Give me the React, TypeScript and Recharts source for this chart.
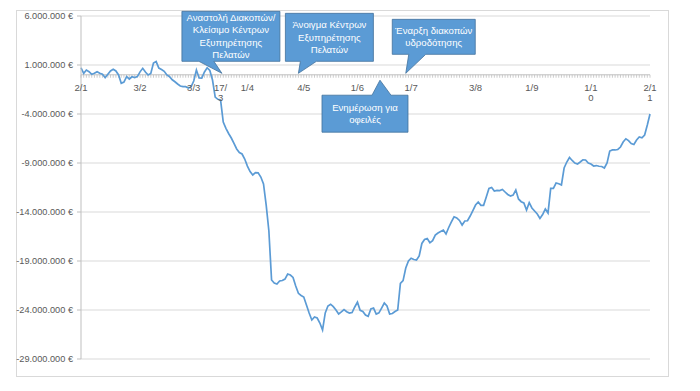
import React from 'react';
import {
  LineChart,
  Line,
  XAxis,
  YAxis,
  CartesianGrid,
  ReferenceLine,
  ReferenceDot,
} from 'recharts';

// Cash balance, in millions of euros, one value per business day (2/1 .. 2/11)
const balanceMillionEUR = [
  0.72, 0.15, 0.49, 0.32, 0.05, 0.15, 0.32, 0.15, 0.05, -0.3,
  0.05, 0.39, 0.56, 0.39, -0.02, -0.87, -0.75, -0.19, -0.43, -0.2,
  -0.28, -0.19, 0.3, 0.66, 0.29, -0.02, 0.13, 1.2, 1.35, 0.69,
  0.54, 0.36, -0.02, -0.2, -0.51, -0.71, -0.94, -1.14, -1.21, -1.21,
  -1.35, -1.24, -0.63, 0.49, -0.32, -0.33, 0.29, 0.72, 0.44, -0.53,
  -2.27, -2.5, -2.57, -4.82, -5.46, -5.99, -6.45, -7.01, -7.57, -7.93,
  -8.08, -8.59, -9.31, -9.87, -10.22, -9.99, -10.0, -10.43, -11.14, -13.29,
  -15.94, -20.94, -21.24, -21.35, -21.04, -20.99, -20.84, -20.33, -20.43, -20.68,
  -21.55, -22.3, -22.52, -22.67, -23.49, -24.31, -25.02, -24.71, -24.82, -25.33,
  -26.04, -24.3, -23.59, -23.41, -23.66, -24.0, -24.41, -24.2, -23.95, -24.17,
  -24.31, -24.26, -23.69, -23.2, -24.03, -24.15, -24.51, -24.65, -23.9, -23.8,
  -24.41, -24.29, -23.8, -23.29, -23.59, -24.41, -24.36, -24.15, -24.0, -21.28,
  -21.0, -19.71, -19.0, -18.72, -18.85, -18.9, -18.49, -17.21, -16.8, -16.7,
  -17.13, -16.93, -16.35, -16.14, -15.99, -15.84, -16.24, -15.58, -15.02, -14.49,
  -14.61, -14.86, -15.33, -14.92, -14.89, -14.41, -13.85, -13.29, -12.98, -13.32,
  -13.32, -12.47, -11.6, -11.5, -11.86, -11.79, -11.81, -11.7, -11.96, -12.21,
  -12.37, -12.27, -11.76, -12.67, -12.95, -13.08, -13.8, -13.05, -13.59, -13.9,
  -14.2, -14.66, -14.26, -13.69, -14.1, -11.58, -11.58, -11.04, -11.12, -11.24,
  -9.51, -8.9, -8.44, -8.74, -9.0, -9.1, -8.9, -8.67, -8.69, -9.0,
  -9.1, -9.31, -9.26, -9.33, -9.36, -9.51, -9.0, -7.78, -7.67, -7.67,
  -7.62, -7.37, -6.86, -6.53, -6.72, -7.01, -7.11, -6.65, -6.35, -6.43,
  -6.14, -5.12, -4.0,
];

// Category positions (business-day index)
const dayIndex = balanceMillionEUR.map((_, k) => k);

// Labelled category positions on the horizontal axis
const tickDayIndex = [0, 22, 42, 52, 62, 83, 103, 123, 147, 168, 190, 212];
const tickLabels = ['2/1', '3/2', '3/3', '17/3', '1/4', '4/5', '1/6', '1/7', '3/8', '1/9', '1/10', '2/11'];

const yTicks = [6000000, 1000000, -4000000, -9000000, -14000000, -19000000, -24000000, -29000000];

// Callouts: text and the point (day index, value) they point at
const calloutTexts = [
  ['Αναστολή Διακοπών/', 'Κλείσιμο Κέντρων', 'Εξυπηρέτησης', 'Πελατών'],
  ['Άνοιγμα Κέντρων', 'Εξυπηρέτησης', 'Πελατών'],
  ['Έναρξη διακοπών', 'υδροδότησης'],
  ['Ενημέρωση για', 'οφειλές'],
];
const calloutDay = [52.5, 81, 121, 111.4];
const calloutValue = [150000, 150000, 150000, -550000];

// Callout geometry (pixels relative to the pointer tip) — styling only
const calloutGeom = [
  { l: -40, r: 58, t: -62, b: -12, bl: -23, br: -8, tailTop: false },
  { l: -13, r: 75, t: -60, b: -12, bl: 2, br: 18, tailTop: false },
  { l: -13.5, r: 69.5, t: -54, b: -19, bl: 3, br: 20, tailTop: false },
  { l: -58, r: 28, t: 15, b: 52, bl: -8, br: 11, tailTop: true },
];

const data = dayIndex.map((d, k) => ({ day: d, balance: balanceMillionEUR[k] * 1000000 }));

const FONT = '"Liberation Sans", Arial, sans-serif';
const LINE_COLOR = '#5B9BD5';
const AXIS_COLOR = '#BFBFBF';
const GRID_COLOR = '#D9D9D9';
const TEXT_COLOR = '#595959';

const fmtEuro = (n: number) => {
  const s = Math.abs(Math.round(n))
    .toString()
    .replace(/\B(?=(\d{3})+(?!\d))/g, '.');
  return (n < 0 ? '-' : '') + s + ' €';
};

const YTick = (props: any) => {
  const { x, y, payload } = props;
  return (
    <text
      x={x}
      y={y}
      dy="0.35em"
      textAnchor="end"
      fontSize={9.2}
      fontFamily={FONT}
      fill={TEXT_COLOR}
    >
      {fmtEuro(payload.value)}
    </text>
  );
};

const wrapLabel = (s: string) => (s.length > 3 ? [s.slice(0, 3), s.slice(3)] : [s]);

const makeTickLabel = (label: string) => (props: any) => {
  const vb = props.viewBox || {};
  const cx = (vb.x || 0) + (vb.width || 0) / 2;
  const cy = (vb.y || 0) + (vb.height || 0) / 2;
  const lines = wrapLabel(label);
  return (
    <text
      x={cx}
      y={cy}
      textAnchor="middle"
      fontSize={9.5}
      fontFamily={FONT}
      fill={TEXT_COLOR}
    >
      {lines.map((ln, k) => (
        <tspan key={k} x={cx} y={cy + 16 + k * 10.5}>
          {ln}
        </tspan>
      ))}
    </text>
  );
};

const makeCallout = (lines: string[], g: any) => (props: any) => {
  const vb = props.viewBox || {};
  const tx = (vb.x || 0) + (vb.width || 0) / 2;
  const ty = (vb.y || 0) + (vb.height || 0) / 2;
  const L = tx + g.l;
  const R = tx + g.r;
  const T = ty + g.t;
  const B = ty + g.b;
  let d: string;
  if (g.tailTop) {
    d = `M${L},${T} L${tx + g.bl},${T} L${tx},${ty} L${tx + g.br},${T} L${R},${T} L${R},${B} L${L},${B} Z`;
  } else {
    d = `M${L},${T} L${R},${T} L${R},${B} L${tx + g.br},${B} L${tx},${ty} L${tx + g.bl},${B} L${L},${B} Z`;
  }
  const lh = 12.5;
  const cxBox = (L + R) / 2;
  const cyBox = (T + B) / 2;
  const y0 = cyBox - ((lines.length - 1) * lh) / 2;
  return (
    <g>
      <path d={d} fill={LINE_COLOR} stroke="#41719C" strokeWidth={0.8} />
      <text textAnchor="middle" fontSize={9.6} fontFamily={FONT} fill="#FFFFFF">
        {lines.map((ln, k) => (
          <tspan key={k} x={cxBox} y={y0 + k * lh} dy="0.35em">
            {ln}
          </tspan>
        ))}
      </text>
    </g>
  );
};

export default function App() {
  return (
    <div style={{ position: 'absolute', left: 0, top: 0, width: 700, height: 391, background: '#fff' }}>
      <div
        style={{
          position: 'absolute',
          left: 16,
          top: 10,
          width: 653,
          height: 367,
          border: '1px solid #D9D9D9',
          boxSizing: 'border-box',
        }}
      />
      <div style={{ position: 'absolute', left: 0, top: 0 }}>
        <LineChart
          width={700}
          height={391}
          data={data}
          margin={{ top: 16, right: 50, bottom: 32, left: 0 }}
        >
          <CartesianGrid horizontal vertical={false} stroke={GRID_COLOR} />
          <XAxis type="number" dataKey="day" domain={[0, 212]} hide />
          <YAxis
            type="number"
            domain={[-29000000, 6000000]}
            ticks={yTicks}
            interval={0}
            width={81}
            tick={<YTick />}
            axisLine={{ stroke: AXIS_COLOR }}
            tickLine={{ stroke: AXIS_COLOR }}
            tickSize={4}
            tickMargin={4}
          />
          <ReferenceLine y={0} stroke={AXIS_COLOR} strokeWidth={1} />
          {dayIndex.map((d) => (
            <ReferenceLine
              key={'mt' + d}
              segment={[
                { x: d, y: 0 },
                { x: d, y: -300000 },
              ]}
              stroke={AXIS_COLOR}
              strokeWidth={0.8}
            />
          ))}
          {tickDayIndex.map((d, k) => (
            <ReferenceDot
              key={'tl' + d}
              x={d}
              y={0}
              r={0}
              fill="none"
              stroke="none"
              label={makeTickLabel(tickLabels[k])}
            />
          ))}
          <Line
            type="linear"
            dataKey="balance"
            stroke={LINE_COLOR}
            strokeWidth={1.7}
            dot={false}
            isAnimationActive={false}
          />
          {calloutTexts.map((lines, k) => (
            <ReferenceDot
              key={'co' + k}
              x={calloutDay[k]}
              y={calloutValue[k]}
              r={0}
              fill="none"
              stroke="none"
              label={makeCallout(lines, calloutGeom[k])}
            />
          ))}
        </LineChart>
      </div>
    </div>
  );
}
